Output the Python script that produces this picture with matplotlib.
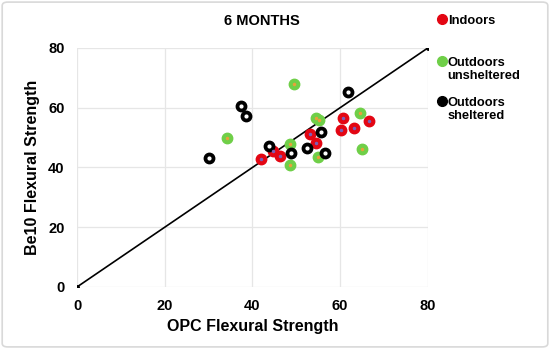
import matplotlib.pyplot as plt
from matplotlib.patches import FancyBboxPatch
from matplotlib.lines import Line2D

plt.rcParams['font.family'] = ['Liberation Sans', 'DejaVu Sans']
plt.rcParams['font.weight'] = 'bold'

# OPC vs Be10 flexural strength after 6 months
indoors_x = [41.9, 44.7, 46.3, 53.1, 54.5, 60.7, 60.2, 63.1, 66.5]
indoors_y = [42.7, 45.6, 43.8, 51.1, 48.3, 56.6, 52.6, 53.2, 55.5]

unsheltered_x = [34.1, 49.5, 54.5, 55.2, 64.5, 48.6, 55.0, 48.6, 65.0]
unsheltered_y = [49.8, 67.8, 56.7, 55.9, 58.1, 47.9, 43.6, 40.9, 46.1]

sheltered_x = [30.2, 37.5, 38.5, 43.8, 48.8, 52.4, 55.6, 56.5, 61.7]
sheltered_y = [43.3, 60.4, 57.2, 47.2, 44.8, 46.6, 51.9, 45.0, 65.2]

line_x = [0, 80]
line_y = [0, 80]
ticks = [0, 20, 40, 60, 80]

series_names = ['Indoors', 'Outdoors\nunsheltered', 'Outdoors\nsheltered']
series_colors = ['#e30613', '#6fcf48', 'black']

fig = plt.figure(figsize=(5.5, 3.49), dpi=100)
border = FancyBboxPatch((0.004, 0.006), 0.992, 0.988, boxstyle="round,pad=0,rounding_size=0.01",
                        transform=fig.transFigure, facecolor='none', edgecolor='#d9d9d9',
                        linewidth=1.2, zorder=5)
fig.patches.append(border)

ax = fig.add_axes([0.14, 0.1777, 0.638, 0.685])

ax.plot(line_x, line_y, color='black', linewidth=1.2, marker='o', markersize=2.5, zorder=2)

ax.plot(indoors_x, indoors_y, 'o', markersize=7.5, color=series_colors[0], zorder=3)
ax.plot(indoors_x, indoors_y, 'o', markersize=1.5, color='#7b5fb5', zorder=4)
ax.plot(unsheltered_x, unsheltered_y, 'o', markersize=7.5, color=series_colors[1], zorder=3)
ax.plot(unsheltered_x, unsheltered_y, 'o', markersize=1.5, color='#e8a13a', zorder=4)
ax.plot(sheltered_x, sheltered_y, 'o', markersize=7.5, color=series_colors[2], zorder=3)
ax.plot(sheltered_x, sheltered_y, 'o', markersize=2, color='white', zorder=4)

ax.set_xlim(0, 80)
ax.set_ylim(0, 80)
ax.set_xticks(ticks)
ax.set_yticks(ticks)
ax.tick_params(length=0, labelsize=10.5, pad=9)
for lbl in ax.get_xticklabels() + ax.get_yticklabels():
    lbl.set_fontweight('bold')
ax.grid(True, color='#e6e6e6', linewidth=0.9)
ax.set_axisbelow(True)
for s in ax.spines.values():
    s.set_visible(False)

ax.set_xlabel('OPC Flexural Strength', fontsize=11.5, fontweight='bold', labelpad=4)
ax.set_ylabel('Be10 Flexural Strength', fontsize=11.5, fontweight='bold', labelpad=6)
fig.text(0.476, 0.941, '6 MONTHS', fontsize=10.5, fontweight='bold', ha='center', va='center')

# legend drawn by hand: entries are spaced unevenly in the original
legend_tops = [0.946, 0.826, 0.711]
for name, col, yy in zip(series_names, series_colors, legend_tops):
    fig.add_artist(Line2D([0.803], [yy], transform=fig.transFigure, marker='o',
                          markersize=7, color=col, linestyle='none'))
    fig.text(0.814, yy + 0.012, name, fontsize=9.3, fontweight='bold', ha='left', va='top',
             linespacing=1.2)

fig.savefig('out.png', dpi=100)
